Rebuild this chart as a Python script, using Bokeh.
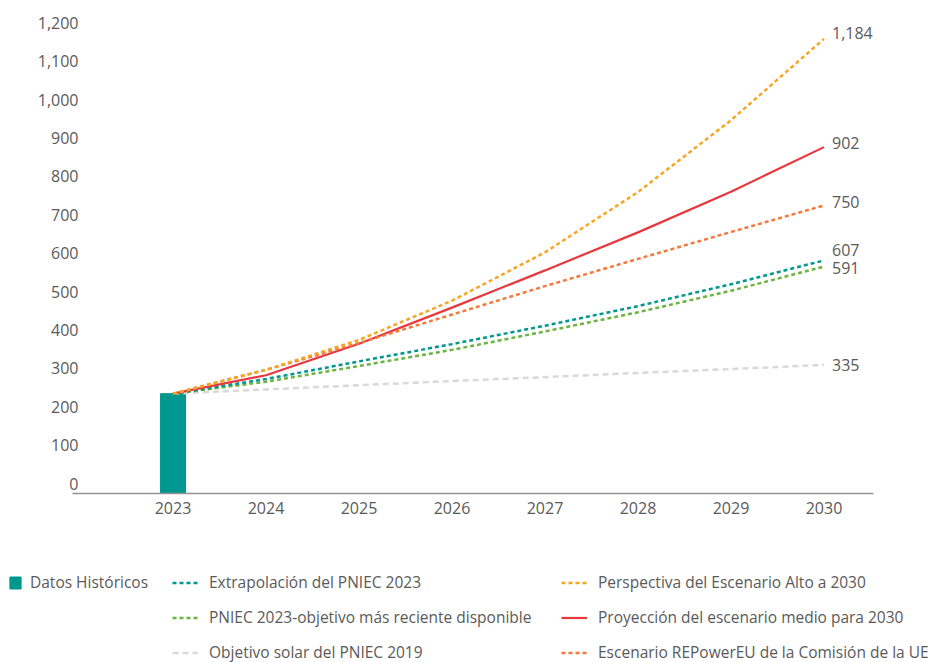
from bokeh.plotting import figure
from bokeh.models import (Range1d, LinearAxis, FixedTicker, NumeralTickFormatter,
                          Legend, LegendItem, ColumnDataSource)
from bokeh.core.properties import value
from bokeh.embed import file_html
from bokeh.resources import INLINE

# ---------------- data ----------------
years = [2023, 2024, 2025, 2026, 2027, 2028, 2029, 2030]
hist_years = [2023]
hist_values = [260]

extrapolacion_pniec_2023 = [260, 298, 344, 389, 437, 488, 545, 607]
pniec_2023_objetivo = [260, 291, 332, 374, 422, 472, 528, 591]
objetivo_pniec_2019 = [260, 271, 282, 293, 303, 314, 324, 335]
escenario_alto = [260, 322, 400, 502, 628, 785, 972, 1184]
escenario_medio = [260, 308, 390, 484, 581, 680, 786, 902]
repowereu = [260, 322, 392, 466, 540, 611, 681, 750]

y_ticks = [0, 100, 200, 300, 400, 500, 600, 700, 800, 900, 1000, 1100, 1200]
x_ticks = years

labels = {
    "hist": "Datos Históricos",
    "extra": "Extrapolación del PNIEC 2023",
    "pniec23": "PNIEC 2023-objetivo más reciente disponible",
    "pniec19": "Objetivo solar del PNIEC 2019",
    "alto": "Perspectiva del Escenario Alto a 2030",
    "medio": "Proyección del escenario medio para 2030",
    "repower": "Escenario REPowerEU de la Comisión de la UE",
}

# ---------------- layout / style ----------------
W, H = 930, 662
PX_PER_YEAR = 93.0
PX_PER_UNIT = 0.384
X_2023_PX = 172.5      # screen x of 2023
Y0_PX = 493.0          # screen y of value 0
AXIS_LEFT_PX, AXIS_RIGHT_PX = 72, 873
YLABEL_RIGHT_PX = 80
LABEL_SHIFT = 26.0     # tick labels sit slightly above their value

x_start = years[0] - X_2023_PX / PX_PER_YEAR
x_end = x_start + W / PX_PER_YEAR
y_end = Y0_PX / PX_PER_UNIT
y_start = -(H - Y0_PX) / PX_PER_UNIT

def xdata(px):
    return x_start + px / PX_PER_YEAR

FONT = "Open Sans"
TXT = "#5a5a5a"
C_TEAL = "#00978F"
C_GREEN = "#6CB33F"
C_GRAY = "#D9D9D9"
C_YELLOW = "#F6A623"
C_RED = "#E8383D"
C_ORANGE = "#F37A3B"

p = figure(width=W, height=H, output_backend="svg", toolbar_location=None,
           x_range=Range1d(x_start, x_end), y_range=Range1d(y_start, y_end),
           min_border=0, min_border_left=0, min_border_right=0,
           min_border_top=0, min_border_bottom=0)
p.outline_line_color = None
p.grid.visible = False
p.background_fill_color = "white"
p.border_fill_color = "white"
p.yaxis.visible = False

# x axis drawn at value 0
xax = p.xaxis[0]
xax.fixed_location = 0
xax.bounds = (xdata(AXIS_LEFT_PX), xdata(AXIS_RIGHT_PX))
xax.ticker = FixedTicker(ticks=x_ticks)
xax.axis_line_color = "#939393"
xax.axis_line_width = 1.5
xax.major_tick_line_color = None
xax.minor_tick_line_color = None
xax.major_tick_in = 0
xax.major_tick_out = 0
xax.minor_tick_in = 0
xax.minor_tick_out = 0
xax.major_label_standoff = 8
xax.major_label_text_font = FONT
xax.major_label_text_font_size = "16px"
xax.major_label_text_color = TXT

# y tick labels (shifted axis, no line)
p.extra_y_ranges = {"lab": Range1d(y_start - LABEL_SHIFT, y_end - LABEL_SHIFT)}
yax = LinearAxis(y_range_name="lab", ticker=FixedTicker(ticks=y_ticks),
                 formatter=NumeralTickFormatter(format="0,0"))
yax.fixed_location = xdata(YLABEL_RIGHT_PX)
yax.axis_line_color = None
yax.major_tick_line_color = None
yax.minor_tick_line_color = None
yax.major_tick_in = 0
yax.major_tick_out = 0
yax.minor_tick_in = 0
yax.minor_tick_out = 0
yax.major_label_standoff = 2
yax.major_label_text_font = FONT
yax.major_label_text_font_size = "16px"
yax.major_label_text_color = TXT
p.add_layout(yax, "left")

# ---------------- marks ----------------
bar = p.vbar(x=hist_years, top=hist_values, width=0.27, color=C_TEAL)

r_gray = p.line(years, objetivo_pniec_2019, line_color=C_GRAY, line_width=2.5, line_dash="6 4")
r_green = p.line(years, pniec_2023_objetivo, line_color=C_GREEN, line_width=2.5, line_dash="4 3")
r_teal = p.line(years, extrapolacion_pniec_2023, line_color=C_TEAL, line_width=2.5, line_dash="4 3")
r_red = p.line(years, escenario_medio, line_color=C_RED, line_width=2.2)
r_orange = p.line(years, repowereu, line_color=C_ORANGE, line_width=2.5, line_dash="4 3")
r_yellow = p.line(years, escenario_alto, line_color=C_YELLOW, line_width=2.5, line_dash="4 3")

# end value labels
end_series = [escenario_alto, escenario_medio, repowereu,
              extrapolacion_pniec_2023, pniec_2023_objetivo, objetivo_pniec_2019]
nudges = [-6, -4, -4, -10, 1, 0]
end_src = ColumnDataSource(dict(
    x=[years[-1]] * len(end_series),
    y=[s[-1] for s in end_series],
    t=[f"{s[-1]:,}" for s in end_series],
    dy=nudges,
))
p.text(x="x", y="y", text="t", source=end_src, x_offset=8, y_offset="dy",
       text_align="left", text_baseline="middle", text_font=value(FONT),
       text_font_size="16px", text_color=TXT)

# ---------------- legends ----------------
ITEM_H, SPACING = 22, 13
ROW1_TOP = 571

def add_legend(items, left_px, gw, standoff):
    n = len(items)
    lh = n * ITEM_H + (n - 1) * SPACING
    vy = H - lh - ROW1_TOP
    lg = Legend(items=items, location=(left_px, vy), orientation="vertical",
                glyph_width=gw, glyph_height=15, label_height=ITEM_H, spacing=SPACING,
                padding=0, margin=0, label_standoff=standoff,
                border_line_color=None, background_fill_alpha=0,
                label_text_font=FONT, label_text_font_size="15.5px",
                label_text_color=TXT)
    p.add_layout(lg, "center")

add_legend([LegendItem(label=labels["hist"], renderers=[bar])], 8, 14, 8)
add_legend([LegendItem(label=labels["extra"], renderers=[r_teal]),
            LegendItem(label=labels["pniec23"], renderers=[r_green]),
            LegendItem(label=labels["pniec19"], renderers=[r_gray])], 172, 26, 11)
add_legend([LegendItem(label=labels["alto"], renderers=[r_yellow]),
            LegendItem(label=labels["medio"], renderers=[r_red]),
            LegendItem(label=labels["repower"], renderers=[r_orange])], 561, 26, 11)

open("out.html", "w").write(file_html(p, INLINE))
